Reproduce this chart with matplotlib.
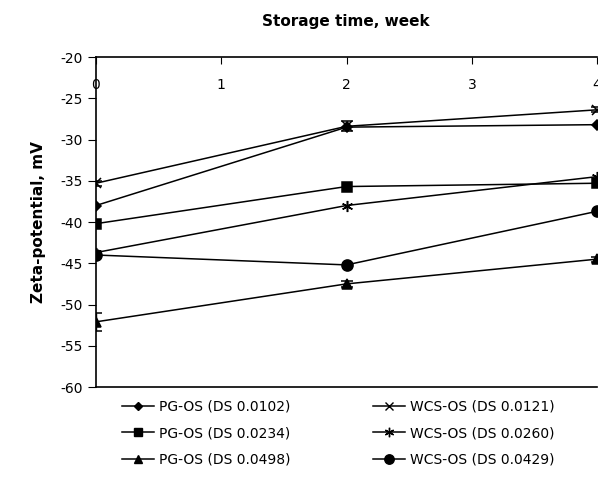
import numpy as np
import matplotlib.pyplot as plt
from matplotlib.lines import Line2D

plt.rcParams['axes.unicode_minus'] = False

weeks = [0, 2, 4]
labels = ["PG-OS (DS 0.0102)", "PG-OS (DS 0.0234)", "PG-OS (DS 0.0498)",
          "WCS-OS (DS 0.0121)", "WCS-OS (DS 0.0260)", "WCS-OS (DS 0.0429)"]
pg_0102 = [-38.0, -28.5, -28.2]
pg_0234 = [-40.2, -35.7, -35.3]
pg_0498 = [-52.1, -47.5, -44.5]
wcs_0121 = [-35.3, -28.4, -26.4]
wcs_0260 = [-43.7, -38.0, -34.5]
wcs_0429 = [-44.0, -45.2, -38.7]
err_pg_0498 = [1.1, 0.4, 0.3]
err_wcs_0121 = [0.3, 0.6, 0.3]

series = [pg_0102, pg_0234, pg_0498, wcs_0121, wcs_0260, wcs_0429]
errs = [None, None, err_pg_0498, err_wcs_0121, None, None]
markers = ['D', 's', '^', 'x', (6, 2, 0), 'o']
sizes = [5, 7, 7, 7, 8, 8]

fig = plt.figure(figsize=(5.98, 4.84), dpi=100)
ax = fig.add_axes([0.1605, 0.2004, 0.838, 0.6818])

handles = []
for y, e, m, s, lab in zip(series, errs, markers, sizes, labels):
  ax.errorbar(weeks, y, yerr=e, color='black', lw=1.1, marker=m, ms=s,
              mew=1.1, capsize=4 if e else 0, elinewidth=1)
  handles.append(Line2D([], [], color='black', lw=1.1, marker=m,
                        ms=s * 0.85, mew=1.0, label=lab))

ax.set_xlim(0, 4)
ax.set_ylim(-60, -20)
ax.set_xticks([0, 1, 2, 3, 4])
ax.set_yticks(np.arange(-60, -19, 5))
ax.spines['bottom'].set_position(('data', -20))
ax.spines['top'].set_position(('data', -60))
ax.spines['right'].set_visible(False)
for sp in ax.spines.values():
  sp.set_linewidth(1.2)
ax.tick_params(axis='x', direction='out', length=5, pad=10, labelsize=10)
ax.tick_params(axis='y', direction='out', length=6, labelsize=10)
ax.set_ylabel("Zeta-potential, mV", fontsize=11, fontweight='bold', labelpad=10)
fig.text(0.578, 0.955, "Storage time, week", ha='center', va='center',
         fontsize=11, fontweight='bold')

ax.legend(handles=handles, ncol=2, loc='upper center',
          bbox_to_anchor=(0.484, -0.0), frameon=False, fontsize=10,
          columnspacing=5.9, handlelength=2.3, handletextpad=0.4,
          labelspacing=0.9)

fig.savefig('out.png', dpi=100)
